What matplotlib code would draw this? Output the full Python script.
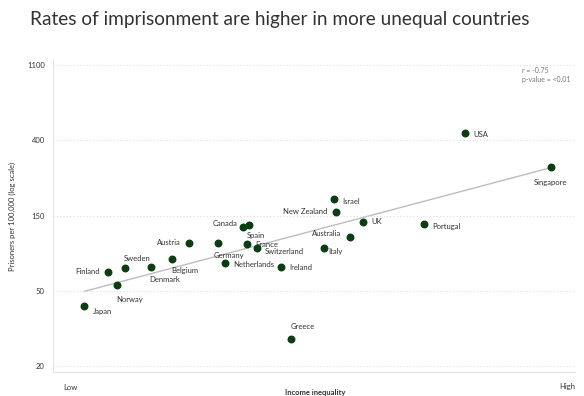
import numpy as np
import matplotlib.pyplot as plt

# income inequality (ratio of top 20% to bottom 20%) and prisoners per 100,000
countries = ['Japan', 'Finland', 'Norway', 'Sweden', 'Denmark', 'Belgium', 'Austria',
             'Germany', 'Canada', 'Spain', 'France', 'Switzerland', 'Netherlands',
             'Ireland', 'Greece', 'Italy', 'Australia', 'New Zealand', 'Israel', 'UK',
             'Portugal', 'USA', 'Singapore']
inequality = [3.40, 3.72, 3.85, 3.95, 4.30, 4.59, 4.82,
              5.21, 5.55, 5.63, 5.60, 5.73, 5.30,
              6.06, 6.19, 6.64, 6.99, 6.80, 6.77, 7.17,
              7.99, 8.54, 9.70]
prisoners = [44.5, 69.7, 58.7, 73.6, 74.5, 82.8, 103.8,
             103.8, 128.3, 131.7, 102.4, 95.9, 78.6,
             74.5, 28.7, 95.9, 112.4, 156.5, 185.8, 137.1,
             133.5, 445.3, 284.3]
ytick_vals = [np.e**3, np.e**4, np.e**5, np.e**6, np.e**7]
ytick_labels = ['20', '50', '150', '400', '1100']

# label offsets in points (dx, dy, ha)
offsets = {
    'Japan': (6, -4, 'left'), 'Finland': (-6, 1, 'right'), 'Norway': (-1, -10, 'left'),
    'Sweden': (-1, 7, 'left'), 'Denmark': (-1, -9, 'left'), 'Belgium': (-1, -8, 'left'),
    'Austria': (-6, 0, 'right'), 'Germany': (-3, -9, 'left'), 'Canada': (-4, 2, 'right'),
    'Spain': (-2, -7.5, 'left'), 'France': (6, -0.5, 'left'), 'Switzerland': (6, -2, 'left'),
    'Netherlands': (6, -1, 'left'), 'Ireland': (6, 0, 'left'), 'Greece': (0, 9, 'left'),
    'Italy': (3, -2, 'left'), 'Australia': (-6, 2, 'right'), 'New Zealand': (-6, 0, 'right'),
    'Israel': (6, -2, 'left'), 'UK': (6, 0, 'left'), 'Portugal': (6, -2, 'left'),
    'USA': (6, -1, 'left'), 'Singapore': (0, -11, 'center'),
}

plt.rcParams['font.family'] = ['Lato', 'DejaVu Sans']

fig = plt.figure(figsize=(5.84, 3.96), dpi=100)
ax = fig.add_axes([53/584, 1 - 372/396, 522/584, 312/396])
ax.set_yscale('log')

x = np.array(inequality)
y = np.array(prisoners)
k, b = np.polyfit(x, np.log(y), 1)
xl = np.array([x.min(), x.max()])
ax.plot(xl, np.exp(k*xl + b), color='#bdbdbd', lw=1, zorder=1)

ax.scatter(x, y, s=22, color='#0b3d12', zorder=3)
for c, xi, yi in zip(countries, x, y):
    dx, dy, ha = offsets[c]
    ax.annotate(c, (xi, yi), xytext=(dx, dy), textcoords='offset points',
                ha=ha, va='center', fontsize=5.5, color='#333333')

ax.set_xlim(2.98, 10.03)
ax.set_ylim(np.e**2.92, np.e**7.07)
ax.set_yticks(ytick_vals)
ax.set_yticklabels(ytick_labels)
ax.minorticks_off()
ax.set_xticks([])
ax.tick_params(axis='y', length=0, labelsize=5.5, labelcolor='#333333', pad=6)
ax.grid(axis='y', linestyle=(0, (1, 2)), color='#dddddd', lw=0.8)
for s in ['top', 'right']:
    ax.spines[s].set_visible(False)
ax.spines['left'].set_color('#e6e6e6')
ax.spines['bottom'].set_color('#e6e6e6')

ax.set_ylabel('Prisoners per 100,000 (log scale)', fontsize=5.5, color='#333333', labelpad=8)
fig.text(70/584, 1 - 387/396, 'Low', fontsize=5.5, color='#333333', ha='center', va='center')
fig.text(567/584, 1 - 387/396, 'High', fontsize=5.5, color='#333333', ha='center', va='center')
fig.text(315/584, 1 - 392/396, 'Income inequality', fontsize=5.5, fontweight='bold',
         color='#333333', ha='center', va='center')
fig.text(522/584, 1 - 75/396, 'r = -0.75\np-value = <0.01', fontsize=5, color='#777777',
         ha='left', va='center', linespacing=1.3)

fig.text(30/584, 1 - 20/396, 'Rates of imprisonment are higher in more unequal countries',
         fontsize=13.7, color='#333333', ha='left', va='center')

fig.savefig('out.png', dpi=100)
